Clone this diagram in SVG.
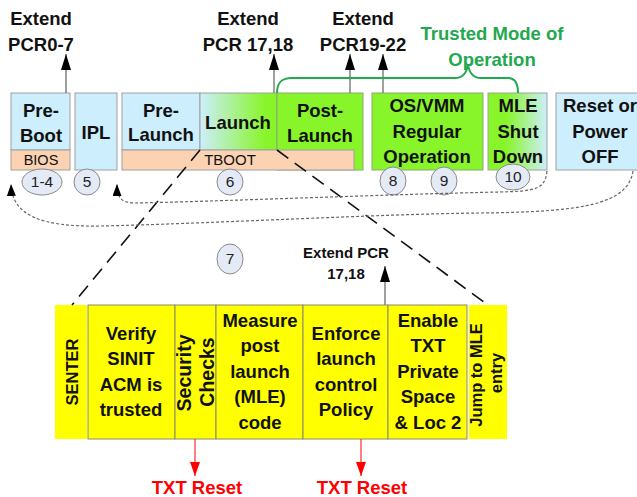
<svg xmlns="http://www.w3.org/2000/svg" width="637" height="497" viewBox="0 0 637 497">
<style>
text{font-family:"Liberation Sans",Arial,sans-serif;fill:#111}
.b{font-weight:bold;font-size:18.5px;text-anchor:middle}
.sm{font-size:14.5px;text-anchor:middle}
.num{font-size:15.5px;text-anchor:middle;fill:#222}
.rot{font-weight:bold;font-size:16.5px;text-anchor:middle}
.lb{fill:#cdeefc;stroke:#a0a0a0;stroke-width:1}
.pe{fill:#fbd3b3;stroke:#a0a0a0;stroke-width:1}
.gr{fill:#88f52a;stroke:#8aa870;stroke-width:1}
.ye{fill:#ffff00;stroke:#8a8a6a;stroke-width:1}
.cir{fill:#e4ebf6;stroke:#8a8a8a;stroke-width:1}
.up{stroke:#808080;stroke-width:1.5;fill:none}
.red{stroke:#ff2a2a;stroke-width:1.2;fill:none}
.dl{stroke:#111;stroke-width:1.6;fill:none;stroke-dasharray:14 8}
.dot{stroke:#666;stroke-width:1.2;fill:none;stroke-dasharray:3 2}
.rt{fill:#ff0000;font-weight:bold;font-size:18.5px;text-anchor:middle}
.gt{fill:#22a84e;font-weight:bold;font-size:18.5px;text-anchor:middle}
</style>
<defs>
<linearGradient id="gLaunch" x1="0" y1="0" x2="1" y2="0">
<stop offset="0" stop-color="#cdeefc"/><stop offset="0.85" stop-color="#88f52a"/>
</linearGradient>
<linearGradient id="gMle" x1="0" y1="0" x2="1" y2="0">
<stop offset="0.3" stop-color="#88f52a"/><stop offset="1" stop-color="#cdeefc"/>
</linearGradient>
<marker id="ah" markerUnits="userSpaceOnUse" markerWidth="16" markerHeight="10" refX="16" refY="5" orient="auto">
<path d="M0,0 L16,5 L0,10 z" fill="#000"/>
</marker>
<marker id="ahs" markerUnits="userSpaceOnUse" markerWidth="12" markerHeight="9" refX="12" refY="4.5" orient="auto">
<path d="M0,0 L12,4.5 L0,9 z" fill="#000"/>
</marker>
<marker id="ahr" markerUnits="userSpaceOnUse" markerWidth="14" markerHeight="10" refX="14" refY="5" orient="auto">
<path d="M0,0 L14,5 L0,10 z" fill="#ff0000"/>
</marker>
</defs>
<rect width="637" height="497" fill="#fff"/>

<g id="labels">
<text class="b" x="41" y="25">Extend</text>
<text class="b" x="41" y="51">PCR0-7</text>
<text class="b" x="248" y="25">Extend</text>
<text class="b" x="248" y="51">PCR 17,18</text>
<text class="b" x="363" y="25">Extend</text>
<text class="b" x="363" y="51">PCR19-22</text>
<text class="gt" x="492" y="40">Trusted Mode of</text>
<text class="gt" x="492" y="66">Operation</text>
<text x="346" y="258" style="font-weight:bold;font-size:15px;text-anchor:middle">Extend PCR</text>
<text x="346" y="279" style="font-weight:bold;font-size:15px;text-anchor:middle">17,18</text>
<text class="rt" x="197" y="494">TXT Reset</text>
<text class="rt" x="362" y="494">TXT Reset</text>
</g>

<g id="preboot">
<rect class="lb" x="11" y="93" width="59" height="57"/>
<rect class="pe" x="11" y="150" width="59" height="20"/>
<text class="b" x="41" y="117">Pre-</text>
<text class="b" x="41" y="142">Boot</text>
<text class="sm" x="41" y="165">BIOS</text>
</g>
<g id="ipl">
<rect class="lb" x="75" y="93" width="42" height="77"/>
<text class="b" x="96" y="139">IPL</text>
</g>
<g id="prelaunch">
<rect class="lb" x="122" y="93" width="78" height="57"/>
<text class="b" x="161" y="117">Pre-</text>
<text class="b" x="161" y="141">Launch</text>
</g>
<g id="launch">
<rect x="200" y="93" width="77" height="57" fill="url(#gLaunch)" stroke="#a0a0a0"/>
<text class="b" x="238" y="129">Launch</text>
</g>
<g id="postlaunch">
<rect class="gr" x="277" y="93" width="86" height="77"/>
<text class="b" x="320" y="117">Post-</text>
<text class="b" x="320" y="142">Launch</text>
</g>
<g id="tboot">
<rect class="pe" x="122" y="150" width="232" height="20"/>
<text class="sm" x="230" y="165" style="font-size:15px">TBOOT</text>
</g>
<g id="osvmm">
<rect class="gr" x="372" y="93" width="111" height="77"/>
<text class="b" x="427" y="112">OS/VMM</text>
<text class="b" x="427" y="138">Regular</text>
<text class="b" x="427" y="163">Operation</text>
</g>
<g id="mle">
<rect x="488" y="93" width="59" height="77" fill="url(#gMle)" stroke="#a0a0a0"/>
<text class="b" x="518" y="112">MLE</text>
<text class="b" x="518" y="138">Shut</text>
<text class="b" x="518" y="163">Down</text>
</g>
<g id="reset">
<rect class="lb" x="556" y="93" width="84" height="77"/>
<text class="b" x="600" y="112">Reset or</text>
<text class="b" x="600" y="138">Power</text>
<text class="b" x="600" y="163">OFF</text>
</g>

<g id="steps">
<ellipse class="cir" cx="42" cy="182" rx="20" ry="13"/><text class="num" x="42" y="187">1-4</text>
<ellipse class="cir" cx="87" cy="182" rx="13" ry="13"/><text class="num" x="87" y="187">5</text>
<ellipse class="cir" cx="230" cy="182" rx="13" ry="13"/><text class="num" x="230" y="187">6</text>
<ellipse class="cir" cx="230" cy="259" rx="13" ry="15"/><text class="num" x="230" y="264">7</text>
<ellipse class="cir" cx="393" cy="181" rx="13" ry="14"/><text class="num" x="393" y="186">8</text>
<ellipse class="cir" cx="444" cy="181" rx="13" ry="14"/><text class="num" x="444" y="186">9</text>
<ellipse class="cir" cx="513" cy="177" rx="17" ry="13"/><text class="num" x="513" y="182">10</text>
</g>

<g id="senter">
<rect x="55" y="305" width="32" height="134" fill="#ffff00"/>
<text class="rot" transform="rotate(-90)" x="-372" y="78">SENTER</text>
</g>
<g id="verify">
<rect class="ye" x="88" y="305" width="87" height="134"/>
<text class="b" x="131" y="340">Verify</text>
<text class="b" x="131" y="365">SINIT</text>
<text class="b" x="131" y="391">ACM is</text>
<text class="b" x="131" y="416">trusted</text>
</g>
<g id="security">
<rect class="ye" x="175" y="305" width="41" height="134"/>
<text class="b" transform="rotate(-90)" x="-373" y="191" style="font-size:19.5px">Security</text>
<text class="b" transform="rotate(-90)" x="-372" y="214" style="font-size:19.5px">Checks</text>
</g>
<g id="measure">
<rect class="ye" x="216" y="305" width="87" height="134"/>
<text class="b" x="260" y="327">Measure</text>
<text class="b" x="260" y="352">post</text>
<text class="b" x="260" y="378">launch</text>
<text class="b" x="260" y="403">(MLE)</text>
<text class="b" x="260" y="429">code</text>
</g>
<g id="enforce">
<rect class="ye" x="303" y="305" width="85" height="134"/>
<text class="b" x="346" y="340">Enforce</text>
<text class="b" x="346" y="365">launch</text>
<text class="b" x="346" y="391">control</text>
<text class="b" x="346" y="416">Policy</text>
</g>
<g id="enable">
<rect class="ye" x="388" y="305" width="79" height="134"/>
<text class="b" x="428" y="327">Enable</text>
<text class="b" x="428" y="352">TXT</text>
<text class="b" x="428" y="378">Private</text>
<text class="b" x="428" y="403">Space</text>
<text class="b" x="428" y="429">&amp; Loc 2</text>
</g>
<g id="jump">
<rect x="469" y="305" width="38" height="134" fill="#ffff00"/>
<text class="rot" transform="rotate(-90)" x="-375" y="482">Jump to MLE</text>
<text class="rot" transform="rotate(-90)" x="-373" y="502">entry</text>
</g>

<g id="connectors">
<line class="dl" x1="200" y1="150" x2="72" y2="305"/>
<line class="dl" x1="277" y1="150" x2="488" y2="305"/>
<path class="dot" d="M547,171 C545,190 535,191 500,192 C400,194 200,202 135,203 C120,203 117,196 117,184" marker-end="url(#ahs)"/>
<path class="dot" d="M633,171 C628,205 580,212 480,213 C380,214 200,224 100,226 C40,227 12,215 11,184" marker-end="url(#ahs)"/>
<line class="up" x1="66" y1="93" x2="66" y2="54" marker-end="url(#ah)"/>
<line class="up" x1="274" y1="93" x2="274" y2="54" marker-end="url(#ah)"/>
<line class="up" x1="350" y1="93" x2="350" y2="54" marker-end="url(#ah)"/>
<line class="up" x1="383" y1="93" x2="383" y2="54" marker-end="url(#ah)"/>
<line class="up" x1="385" y1="305" x2="385" y2="266" marker-end="url(#ah)"/>
<line class="red" x1="195" y1="439" x2="195" y2="476" marker-end="url(#ahr)"/>
<line class="red" x1="361" y1="439" x2="361" y2="476" marker-end="url(#ahr)"/>
<path d="M277,93 C277,82 282,78 292,78 L455,78 C463,78 467,72 468,64 C469,72 473,78 481,78 L508,78 C515,78 518,84 518,93" fill="none" stroke="#22a84e" stroke-width="2"/>
</g>
</svg>
